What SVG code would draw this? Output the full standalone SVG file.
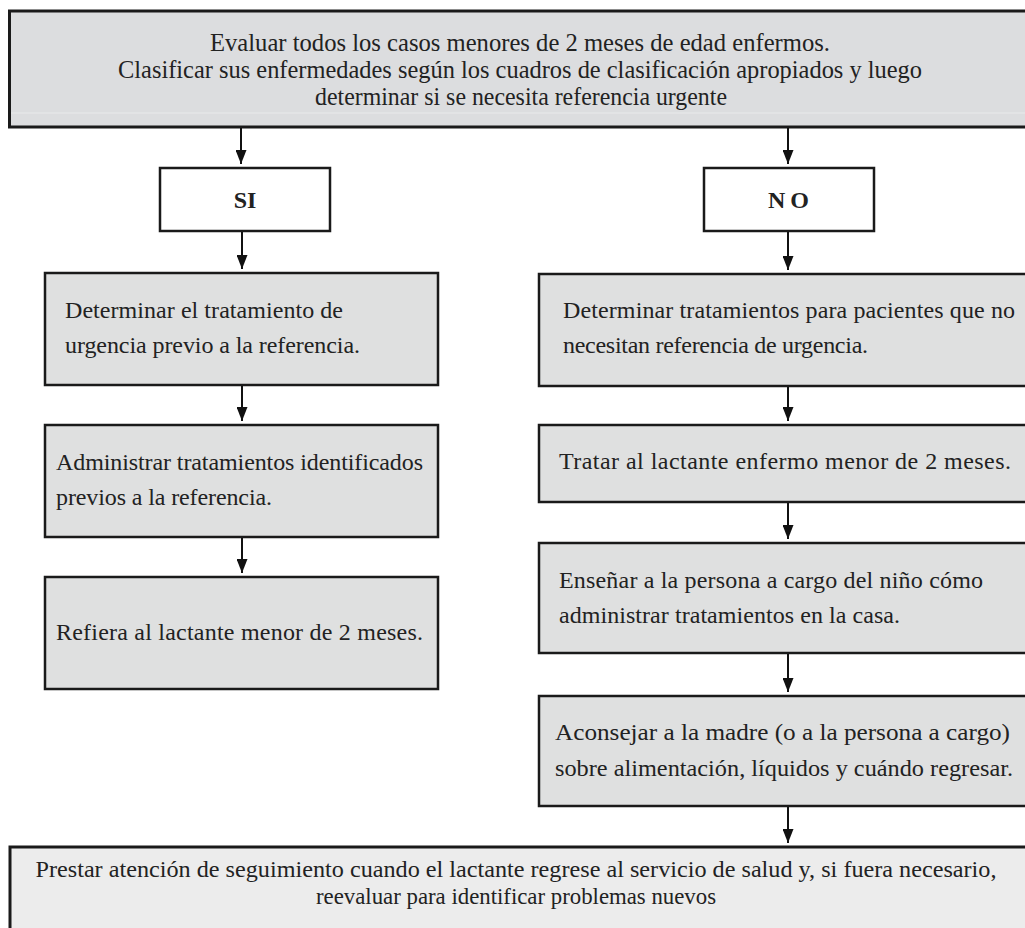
<svg xmlns="http://www.w3.org/2000/svg" width="1025" height="928" viewBox="0 0 1025 928">
<defs>
<marker id="ah" viewBox="0 0 14 11" refX="14" refY="5.5" markerWidth="14" markerHeight="11" markerUnits="userSpaceOnUse" orient="auto">
<path d="M0,0 L14,5.5 L0,11 z" fill="#111"/>
</marker>
<style>
.box{fill:#dfe0e0;stroke:#1a1a1a;stroke-width:2.5}
.wbox{fill:#ffffff;stroke:#1a1a1a;stroke-width:2.5}
.t{font-family:"Liberation Serif","Times New Roman",serif;fill:#222}
.n{font-size:24px}
.k{font-size:26px}
.m{font-size:24px}
.c{text-anchor:middle}
.b{font-weight:bold;font-size:24px}
.conn line{stroke:#111;stroke-width:2;marker-end:url(#ah)}
</style>
</defs>
<rect x="0" y="0" width="1025" height="928" fill="#ffffff"/>

<g id="top">
<rect x="9.5" y="11" width="1030" height="116" fill="#dcdddf" stroke="#1a1a1a" stroke-width="3"/>
<line x1="11" y1="113" x2="1025" y2="113" stroke="#e9eaeb" stroke-width="1"/>
<text class="t k c" x="520" y="51" textLength="620" lengthAdjust="spacingAndGlyphs">Evaluar todos los casos menores de 2 meses de edad enfermos.</text>
<text class="t k c" x="520" y="78" textLength="804" lengthAdjust="spacingAndGlyphs">Clasificar sus enfermedades según los cuadros de clasificación apropiados y luego</text>
<text class="t k c" x="521" y="105" textLength="412" lengthAdjust="spacingAndGlyphs">determinar si se necesita referencia urgente</text>
</g>

<g id="si">
<rect class="wbox" x="160" y="168" width="170" height="63"/>
<text class="t c b" x="245" y="208">SI</text>
</g>
<g id="no">
<rect class="wbox" x="704" y="168" width="170" height="63"/>
<text class="t c b" x="791" y="208" letter-spacing="5">NO</text>
</g>

<g id="l1">
<rect class="box" x="45" y="273" width="393" height="112"/>
<text class="t n" x="65" y="318" textLength="278" lengthAdjust="spacing">Determinar el tratamiento de</text>
<text class="t n" x="65" y="353" textLength="295" lengthAdjust="spacing">urgencia previo a la referencia.</text>
</g>
<g id="l2">
<rect class="box" x="45" y="425" width="393" height="112"/>
<text class="t n" x="56" y="470" textLength="367" lengthAdjust="spacing">Administrar tratamientos identificados</text>
<text class="t n" x="56" y="505" textLength="216" lengthAdjust="spacing">previos a la referencia.</text>
</g>
<g id="l3">
<rect class="box" x="45" y="577" width="393" height="112"/>
<text class="t n" x="56" y="640" textLength="367" lengthAdjust="spacing">Refiera al lactante menor de 2 meses.</text>
</g>

<g id="r1">
<rect class="box" x="539" y="274" width="500" height="112"/>
<text class="t n" x="563" y="318" textLength="452" lengthAdjust="spacing">Determinar tratamientos para pacientes que no</text>
<text class="t n" x="563" y="353" textLength="305" lengthAdjust="spacing">necesitan referencia de urgencia.</text>
</g>
<g id="r2">
<rect class="box" x="539" y="425" width="500" height="77"/>
<text class="t n" x="559" y="469" textLength="452" lengthAdjust="spacing">Tratar al lactante enfermo menor de 2 meses.</text>
</g>
<g id="r3">
<rect class="box" x="539" y="543" width="500" height="110"/>
<text class="t n" x="559" y="588" textLength="424" lengthAdjust="spacing">Enseñar a la persona a cargo del niño cómo</text>
<text class="t n" x="559" y="623" textLength="341" lengthAdjust="spacing">administrar tratamientos en la casa.</text>
</g>
<g id="r4">
<rect class="box" x="539" y="696" width="500" height="110"/>
<text class="t m" x="555" y="740" textLength="455" lengthAdjust="spacingAndGlyphs">Aconsejar a la madre (o a la persona a cargo)</text>
<text class="t m" x="555" y="776" textLength="458" lengthAdjust="spacingAndGlyphs">sobre alimentación, líquidos y cuándo regresar.</text>
</g>

<g id="bottom">
<rect x="10" y="847" width="1030" height="100" fill="#ececec" stroke="#1a1a1a" stroke-width="3"/>
<text class="t m c" x="516" y="877" textLength="961" lengthAdjust="spacingAndGlyphs">Prestar atención de seguimiento cuando el lactante regrese al servicio de salud y, si fuera necesario,</text>
<text class="t m c" x="516" y="904" textLength="400" lengthAdjust="spacingAndGlyphs">reevaluar para identificar problemas nuevos</text>
</g>

<g id="connectors" class="conn">
<line x1="241" y1="128" x2="241" y2="164"/>
<line x1="788" y1="128" x2="788" y2="164"/>
<line x1="242" y1="232" x2="242" y2="269"/>
<line x1="788" y1="232" x2="788" y2="270"/>
<line x1="242" y1="386" x2="242" y2="421"/>
<line x1="242" y1="538" x2="242" y2="573"/>
<line x1="788" y1="387" x2="788" y2="421"/>
<line x1="788" y1="503" x2="788" y2="539"/>
<line x1="788" y1="654" x2="788" y2="692"/>
<line x1="788" y1="807" x2="788" y2="843"/>
</g>
</svg>
